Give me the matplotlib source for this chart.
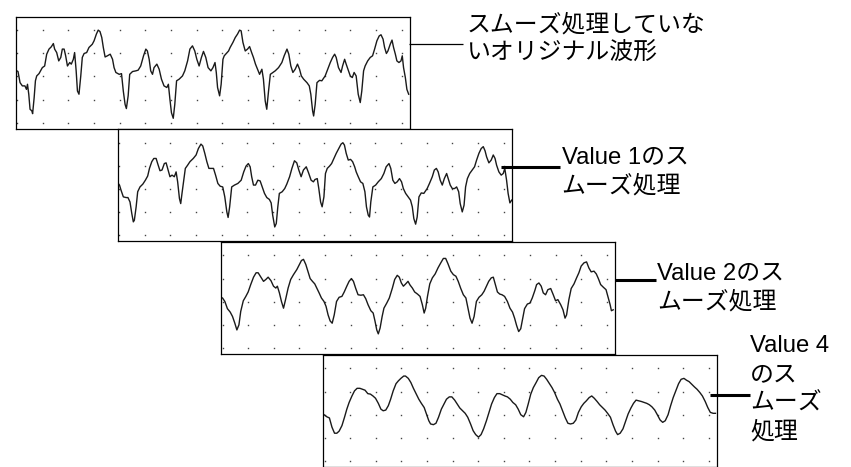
import matplotlib
matplotlib.use('Agg')
import matplotlib.pyplot as plt
from matplotlib.lines import Line2D
import numpy as np

plt.rcParams['font.family'] = ['Liberation Sans', 'Noto Sans CJK JP', 'DejaVu Sans']

# ---------------- data (time in grid units, amplitude in grid units) ----------------
# original (unsmoothed) waveform
t1 = [-0.06, 0.03, 0.11, 0.20, 0.30, 0.36, 0.40, 0.45, 0.50, 0.57, 0.60, 0.66, 0.71, 0.76, 0.85, 0.98,
      1.07, 1.15, 1.24, 1.33, 1.41, 1.46, 1.54, 1.62, 1.70, 1.76, 1.83, 1.89, 1.96, 2.05, 2.11, 2.19,
      2.24, 2.30, 2.35, 2.41, 2.48, 2.54, 2.61, 2.71, 2.80, 2.93, 3.00, 3.09, 3.16, 3.23, 3.30, 3.36,
      3.43, 3.52, 3.63, 3.72, 3.78, 3.85, 3.98, 4.07, 4.14, 4.21, 4.26, 4.33, 4.39, 4.50, 4.63, 4.72,
      4.82, 4.93, 5.02, 5.08, 5.15, 5.21, 5.28, 5.34, 5.45, 5.54, 5.63, 5.73, 5.84, 5.90, 5.96, 6.02,
      6.09, 6.15, 6.22, 6.32, 6.45, 6.54, 6.65, 6.74, 6.84, 6.93, 7.01, 7.10, 7.19, 7.27, 7.36, 7.45,
      7.56,
      7.64, 7.72, 7.77, 7.82, 7.90, 7.96, 8.03, 8.08, 8.16, 8.25,
      8.31, 8.42, 8.51, 8.60, 8.68, 8.74, 8.81, 8.90, 8.99, 9.07,
      9.15, 9.22, 9.30, 9.38, 9.46, 9.55, 9.61, 9.68, 9.74, 9.81,
      9.88, 9.98, 10.07, 10.20, 10.33, 10.42, 10.53, 10.60, 10.68, 10.76,
      10.85, 10.94, 11.02, 11.09, 11.18, 11.31, 11.40, 11.46, 11.53, 11.57,
      11.63, 11.70, 11.80, 11.89, 12.02, 12.12, 12.22, 12.31, 12.39, 12.45,
      12.54, 12.64, 12.70, 12.78, 12.84, 12.91, 13.00, 13.08, 13.15, 13.23,
      13.31, 13.39, 13.45, 13.52, 13.58, 13.68, 13.78, 13.87, 13.95, 14.04,
      14.13, 14.20, 14.28, 14.34, 14.41, 14.47, 14.56, 14.63, 14.69, 14.76,
      14.82, 14.90, 14.98, 15.03, 15.08, 15.15, 15.21, 15.28]
v1 = [2.27, 2.21, 1.73, 1.59, 1.59, 1.44, 1.66, 1.23, 0.58, 0.51, 0.39, 1.08, 1.81, 2.02, 2.12, 2.38,
      2.45, 2.96, 3.18, 3.28, 3.42, 3.18, 3.03, 2.67, 2.82, 3.18, 3.18, 2.89, 2.45, 2.60, 2.53, 2.74,
      3.03, 2.24, 1.37, 1.23, 2.02, 2.82, 2.99, 3.03, 3.25, 3.39, 3.54, 3.83, 4.00, 3.94, 3.68, 3.25,
      2.84, 2.89, 2.96, 2.74, 2.38, 2.17, 2.09, 2.12, 1.37, 0.79, 0.61, 1.16, 2.09, 2.21, 2.24, 2.27,
      2.45, 2.89, 3.18, 3.10, 2.74, 2.24, 2.09, 2.38, 2.53, 2.31, 1.88, 1.59, 1.52, 1.66, 1.01, 0.43,
      0.19, 0.79, 1.81, 1.88, 2.02, 2.24, 2.67, 3.18, 3.32, 3.10, 2.74, 2.45, 2.82, 3.08, 2.82, 2.38,
      2.24,
      2.38, 2.60, 2.17, 1.52, 1.16, 1.66, 2.74, 2.89, 2.99, 3.10,
      3.25, 3.47, 3.68, 3.83, 4.00, 3.97, 3.47, 3.10, 3.18, 3.29,
      3.03, 2.82, 2.53, 2.31, 2.09, 2.31, 1.88, 0.94, 0.58, 1.37,
      2.09, 2.17, 2.24, 2.38, 2.60, 2.89, 3.18, 2.96, 2.45, 2.17,
      2.31, 2.53, 2.31, 2.02, 1.88, 1.73, 1.59, 1.23, 0.51, 0.29,
      0.79, 1.73, 1.83, 1.81, 2.02, 2.31, 2.60, 2.82, 2.96, 2.82,
      2.38, 2.17, 2.45, 2.74, 2.53, 2.31, 2.02, 1.95, 2.17, 2.02,
      1.23, 0.87, 1.37, 2.24, 2.45, 2.67, 2.82, 2.89, 3.18, 3.54,
      3.75, 3.80, 3.61, 3.25, 2.99, 3.10, 3.39, 3.57, 3.25, 2.96,
      2.67, 2.60, 2.67, 2.89, 2.38, 1.95, 1.44, 1.23]

# smoothing value 1
t2 = [-0.06, 0.01, 0.07, 0.16, 0.27, 0.34, 0.42, 0.49, 0.55, 0.59,
      0.66, 0.72, 0.81, 0.92, 1.02, 1.11, 1.18, 1.27, 1.35, 1.44,
      1.50, 1.59, 1.67, 1.76, 1.83, 1.89, 1.98, 2.06, 2.15, 2.22,
      2.28, 2.35, 2.40, 2.45, 2.52, 2.58, 2.67, 2.76, 2.89, 3.00,
      3.09, 3.19, 3.26, 3.34, 3.42, 3.50, 3.59, 3.68, 3.76, 3.85,
      3.94, 4.04, 4.12, 4.20, 4.25, 4.31, 4.39, 4.50, 4.63, 4.76,
      4.86, 4.95, 5.04, 5.11, 5.17, 5.24, 5.32, 5.41, 5.50, 5.58,
      5.67, 5.76, 5.86, 5.93, 5.99, 6.07, 6.13, 6.19, 6.25, 6.36,
      6.46, 6.54, 6.65, 6.74, 6.84, 6.93, 7.01, 7.10, 7.19, 7.30,
      7.39, 7.49, 7.58,
      7.64, 7.73, 7.79, 7.86, 7.92, 7.99, 8.05, 8.12, 8.21, 8.29,
      8.38, 8.47, 8.57, 8.66, 8.73, 8.79, 8.86, 8.94, 9.03, 9.11,
      9.19, 9.25, 9.33, 9.42, 9.51, 9.59, 9.65, 9.72, 9.77, 9.82,
      9.90, 10.01, 10.11, 10.23, 10.33, 10.42, 10.53, 10.60, 10.68, 10.76,
      10.85, 10.94, 11.02, 11.09, 11.18, 11.28, 11.37, 11.44, 11.50, 11.57,
      11.63, 11.70, 11.79, 11.89, 12.02, 12.11, 12.22, 12.30, 12.38, 12.45,
      12.53, 12.61, 12.69, 12.78, 12.84, 12.92, 13.00, 13.09, 13.17, 13.25,
      13.31, 13.39, 13.46, 13.52, 13.59, 13.68, 13.78, 13.87, 13.95, 14.04,
      14.13, 14.21, 14.28, 14.34, 14.43, 14.52, 14.60, 14.67, 14.73, 14.82,
      14.91, 14.99, 15.05, 15.12, 15.18, 15.25, 15.32]
v2 = [2.27, 2.17, 1.95, 1.66, 1.63, 1.63, 1.44, 0.94, 0.58, 0.65,
      1.23, 1.88, 2.09, 2.21, 2.38, 2.56, 2.89, 3.18, 3.32, 3.32,
      3.10, 2.79, 2.82, 3.10, 3.13, 2.89, 2.53, 2.60, 2.53, 2.74,
      2.31, 1.59, 1.37, 1.81, 2.38, 2.89, 3.03, 3.18, 3.32, 3.47,
      3.75, 3.94, 3.86, 3.54, 3.18, 2.89, 2.89, 2.89, 2.60, 2.24,
      2.12, 2.09, 1.66, 1.01, 0.77, 1.23, 2.09, 2.17, 2.24, 2.38,
      2.74, 2.99, 3.10, 2.96, 2.53, 2.17, 2.17, 2.38, 2.35, 2.09,
      1.81, 1.63, 1.55, 1.40, 0.87, 0.36, 0.51, 1.23, 1.81, 1.88,
      2.02, 2.21, 2.53, 2.89, 3.22, 3.13, 2.82, 2.53, 2.82, 2.96,
      2.70, 2.38, 2.31,
      2.41, 2.45, 2.02, 1.44, 1.23, 1.66, 2.67, 2.89, 2.99, 3.10,
      3.32, 3.54, 3.75, 3.94, 4.00, 3.90, 3.54, 3.25, 3.28, 3.18,
      2.96, 2.74, 2.53, 2.31, 2.24, 1.88, 1.23, 0.87, 0.79, 1.44,
      2.09, 2.17, 2.31, 2.45, 2.67, 2.96, 3.10, 2.89, 2.38, 2.24,
      2.31, 2.45, 2.31, 2.02, 1.81, 1.66, 1.52, 1.23, 0.72, 0.48,
      0.79, 1.66, 1.83, 1.81, 2.02, 2.24, 2.53, 2.82, 2.89, 2.74,
      2.38, 2.17, 2.45, 2.67, 2.45, 2.17, 2.02, 2.02, 2.09, 1.88,
      1.37, 1.01, 1.30, 2.09, 2.45, 2.67, 2.82, 2.96, 3.25, 3.54,
      3.75, 3.83, 3.65, 3.39, 3.13, 3.25, 3.47, 3.32, 3.03, 2.74,
      2.60, 2.67, 2.89, 2.38, 1.81, 1.40, 1.52]

# smoothing value 2
t3 = [0.00, 0.09, 0.19, 0.30, 0.39, 0.48, 0.56, 0.64, 0.71, 0.81,
      0.91, 1.00, 1.10, 1.21, 1.31, 1.39, 1.50, 1.60, 1.69, 1.78,
      1.89, 1.99, 2.08, 2.14, 2.22, 2.30, 2.38, 2.46, 2.56, 2.66,
      2.77, 2.90, 3.00, 3.08, 3.16, 3.25, 3.34, 3.42, 3.51, 3.60,
      3.68, 3.77, 3.86, 3.96, 4.04, 4.12, 4.20, 4.28, 4.36, 4.45,
      4.55, 4.66, 4.75, 4.85, 4.94, 5.03, 5.11, 5.20, 5.29, 5.40,
      5.50, 5.59, 5.68, 5.79, 5.88, 5.95, 6.02, 6.08, 6.15, 6.23,
      6.30, 6.41, 6.51, 6.63, 6.72, 6.82, 6.90, 6.98, 7.06, 7.15,
      7.24, 7.32, 7.41, 7.50, 7.61, 7.71, 7.80, 7.87, 7.93, 8.00,
      8.09, 8.19, 8.30, 8.41, 8.52, 8.62, 8.71, 8.80, 8.91, 9.01,
      9.11, 9.20, 9.30, 9.40, 9.50, 9.58, 9.66, 9.74, 9.82, 9.91,
      10.01, 10.12, 10.21, 10.30, 10.39, 10.49, 10.57, 10.65, 10.73, 10.82,
      10.91, 11.01, 11.12, 11.22, 11.32, 11.40, 11.48, 11.56, 11.64, 11.72,
      11.79, 11.90, 12.00, 12.09, 12.19, 12.26, 12.35, 12.44, 12.52, 12.61,
      12.70, 12.81, 12.91, 13.00, 13.09, 13.20, 13.29, 13.37, 13.43, 13.52,
      13.61, 13.72, 13.82, 13.91, 14.00, 14.11, 14.21, 14.30, 14.39, 14.50,
      14.59, 14.67, 14.76, 14.87, 14.97, 15.05, 15.13, 15.18, 15.25]
v3 = [2.16, 2.01, 1.70, 1.55, 1.36, 1.07, 0.78, 1.00, 1.58, 2.04,
      2.23, 2.42, 2.74, 3.06, 3.25, 3.25, 3.06, 2.88, 2.96, 3.06,
      2.91, 2.67, 2.59, 2.67, 2.38, 2.01, 1.72, 2.09, 2.59, 2.96,
      3.17, 3.39, 3.61, 3.78, 3.83, 3.61, 3.29, 3.00, 2.88, 2.77,
      2.59, 2.38, 2.16, 2.01, 1.80, 1.43, 1.17, 1.07, 1.43, 2.01,
      2.19, 2.23, 2.42, 2.67, 2.88, 3.00, 2.88, 2.57, 2.30, 2.28,
      2.30, 2.13, 1.87, 1.61, 1.51, 1.17, 0.78, 0.61, 0.86, 1.36,
      1.72, 1.94, 2.16, 2.59, 2.96, 3.14, 3.06, 2.81, 2.67, 2.77,
      2.88, 2.72, 2.59, 2.42, 2.33, 2.23, 1.87, 1.51, 1.72, 2.23,
      2.77, 3.03, 3.20, 3.46, 3.68, 3.87, 3.87, 3.64, 3.32, 3.17,
      3.10, 2.88, 2.57, 2.30, 2.16, 1.72, 1.29, 1.07, 1.36, 2.01,
      2.19, 2.30, 2.45, 2.67, 2.88, 3.03, 3.06, 2.74, 2.42, 2.33,
      2.30, 2.23, 2.01, 1.72, 1.55, 1.29, 0.97, 0.71, 0.83, 1.29,
      1.70, 1.90, 1.94, 2.16, 2.48, 2.74, 2.81, 2.67, 2.38, 2.30,
      2.52, 2.57, 2.30, 2.04, 2.09, 1.87, 1.65, 1.29, 1.43, 2.09,
      2.57, 2.77, 3.03, 3.25, 3.54, 3.68, 3.72, 3.46, 3.29, 3.32,
      3.20, 3.00, 2.74, 2.62, 2.52, 2.19, 1.87, 1.61, 1.65]

# smoothing value 4
t4 = [-0.02, 0.09, 0.19, 0.29, 0.39, 0.48, 0.57, 0.68, 0.78, 0.87,
      0.96, 1.07, 1.17, 1.27, 1.38, 1.48, 1.58, 1.69, 1.79, 1.89,
      1.99, 2.10, 2.20, 2.29, 2.39, 2.49, 2.58, 2.68, 2.79, 2.88,
      2.98, 3.09, 3.16, 3.27, 3.37, 3.47, 3.58, 3.68, 3.78, 3.89,
      3.98, 4.07, 4.14, 4.25, 4.35, 4.45, 4.56, 4.66, 4.76, 4.87,
      4.97, 5.08, 5.18, 5.28, 5.39, 5.49, 5.59, 5.70, 5.80, 5.90,
      6.01, 6.11, 6.21, 6.32, 6.42, 6.52, 6.63, 6.73, 6.84, 6.94,
      7.04, 7.14, 7.25, 7.35, 7.46, 7.56, 7.66, 7.77, 7.86, 7.95,
      8.05, 8.15, 8.26, 8.36, 8.47, 8.57, 8.67, 8.78, 8.88, 8.98,
      9.09, 9.19, 9.29, 9.40, 9.50, 9.60, 9.71, 9.81, 9.91, 10.02,
      10.12, 10.22, 10.33, 10.43, 10.53, 10.64, 10.74, 10.85, 10.95, 11.05,
      11.16, 11.26, 11.36, 11.44, 11.54, 11.65, 11.75, 11.85, 11.96, 12.06,
      12.16, 12.27, 12.37, 12.47, 12.58, 12.68, 12.78, 12.89, 12.99, 13.10,
      13.20, 13.30, 13.41, 13.51, 13.61, 13.72, 13.82, 13.92, 14.03, 14.13,
      14.23, 14.34, 14.44, 14.54, 14.65, 14.75, 14.86, 14.96, 15.06, 15.17,
      15.26]
v4 = [2.00, 1.91, 1.86, 1.46, 1.20, 1.20, 1.29, 1.53, 1.89, 2.24,
      2.53, 2.81, 3.03, 3.14, 3.14, 3.10, 3.06, 2.91, 2.89, 2.81,
      2.71, 2.49, 2.24, 2.17, 2.20, 2.39, 2.67, 3.03, 3.34, 3.46,
      3.57, 3.67, 3.67, 3.57, 3.39, 3.14, 2.89, 2.67, 2.49, 2.31,
      2.03, 1.74, 1.60, 1.57, 1.63, 1.89, 2.24, 2.46, 2.67, 2.77,
      2.77, 2.63, 2.46, 2.29, 2.17, 2.06, 1.89, 1.60, 1.31, 1.14,
      1.03, 1.14, 1.39, 1.74, 2.10, 2.46, 2.74, 2.91, 2.91, 2.86,
      2.81, 2.77, 2.67, 2.53, 2.43, 2.24, 2.00, 1.91, 2.10, 2.46,
      2.89, 3.17, 3.39, 3.60, 3.70, 3.67, 3.53, 3.34, 3.17, 2.96,
      2.67, 2.46, 2.17, 1.86, 1.63, 1.60, 1.63, 1.77, 2.10, 2.34,
      2.49, 2.60, 2.74, 2.81, 2.71, 2.57, 2.43, 2.31, 2.20, 2.06,
      1.89, 1.57, 1.29, 1.14, 1.20, 1.39, 1.71, 2.03, 2.29, 2.49,
      2.63, 2.60, 2.57, 2.53, 2.49, 2.43, 2.34, 2.20, 2.00, 1.77,
      1.67, 1.74, 2.00, 2.39, 2.74, 3.06, 3.34, 3.53, 3.57, 3.49,
      3.43, 3.31, 3.20, 3.10, 2.96, 2.81, 2.57, 2.31, 2.10, 2.06,
      2.06]

labels = ["スムーズ処理していな\nいオリジナル波形",
          "Value 1のス\nムーズ処理",
          "Value 2のス\nムーズ処理",
          "Value 4\nのス\nムーズ\n処理"]

# ---------------- layout ----------------
W, H = 851, 467
fig = plt.figure(figsize=(W / 100, H / 100), dpi=100)
fig.patch.set_facecolor('white')

PW, PH = 394, 112
boxes = [(15.7, 16.7), (117.7, 129.3), (221.0, 242.0), (323.0, 355.0)]  # left, top (px)

def fx(x):
    return x / W

def fy(y):
    return 1 - y / H

series = [(t1, v1), (t2, v2), (t3, v3), (t4, v4)]
gx, gy = np.meshgrid(np.arange(16), np.arange(5))
for (t, v), (l, tp) in zip(series, boxes):
    n = min(len(t), len(v))
    ax = fig.add_axes([fx(l), fy(tp + PH), PW / W, PH / H])
    ax.set_xlim(-0.06, 15.32)
    ax.set_ylim(-0.26, 4.58)
    ax.plot(gx.ravel(), gy.ravel(), linestyle='none', marker='s', ms=1.0,
            color='#444444', mec='none', zorder=1)
    ax.plot(t[:n], v[:n], color='#1a1a1a', lw=1.0, zorder=2, solid_joinstyle='round')
    ax.set_xticks([])
    ax.set_yticks([])
    for s in ax.spines.values():
        s.set_linewidth(0.9)
        s.set_color('black')

# connector lines (x0, x1, y, width)
connectors = [(409.3, 463.0, 44.3, 0.9),
              (501.0, 560.0, 166.7, 2.2),
              (615.0, 656.0, 280.0, 2.2),
              (709.5, 750.0, 394.5, 2.2)]
for x0, x1, y, lw in connectors:
    fig.add_artist(Line2D([fx(x0), fx(x1)], [fy(y), fy(y)], color='black', lw=lw,
                          transform=fig.transFigure, solid_capstyle='butt'))

text_pos = [(466.7, 14.0), (561.7, 146.0), (657.0, 262.0), (750.0, 335.5)]
for lab, (x, y) in zip(labels, text_pos):
    fig.text(fx(x), fy(y), lab, fontsize=17.2, ha='left', va='top',
             linespacing=1.38, color='black')

fig.savefig('out.png', dpi=100, facecolor='white')
